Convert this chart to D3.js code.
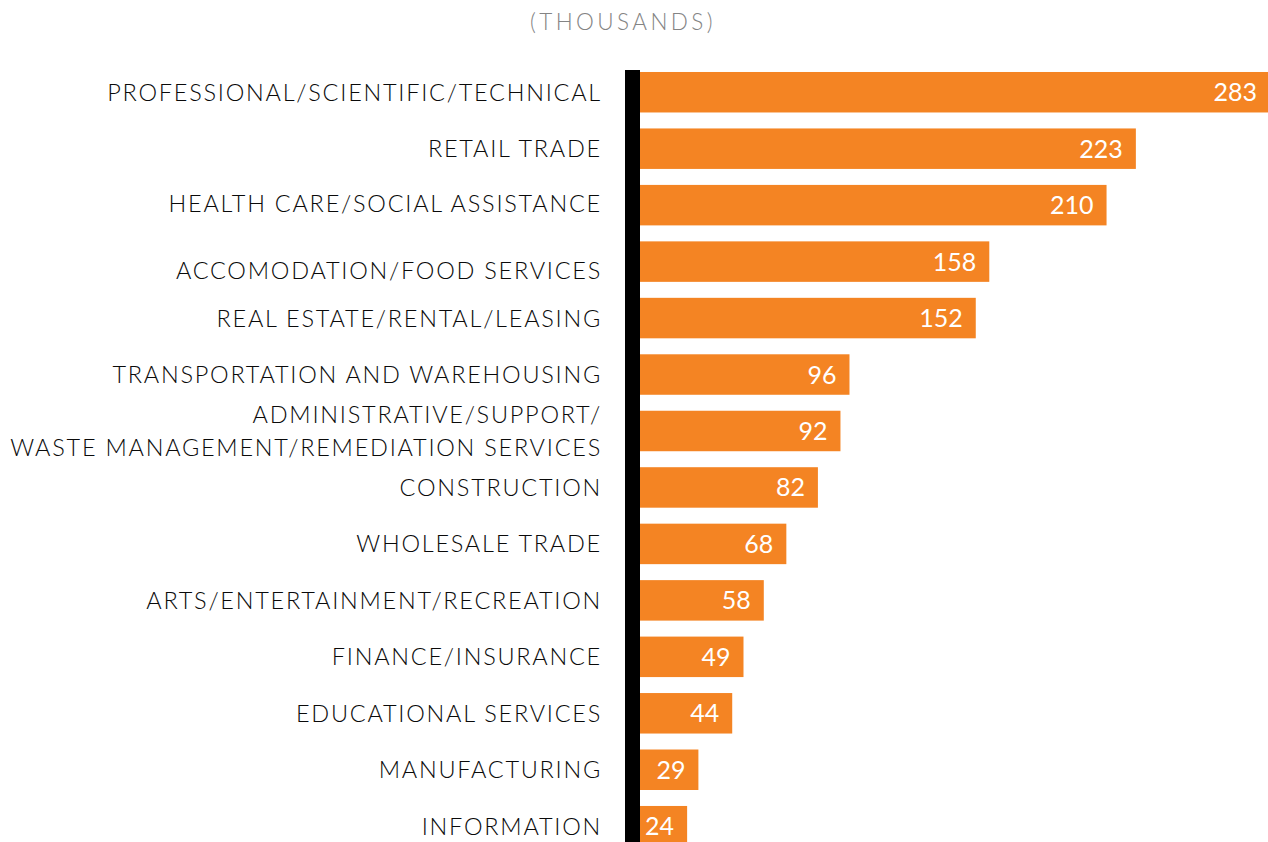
<!DOCTYPE html>
<html>
<head>
<meta charset="utf-8">
<script src="https://cdn.jsdelivr.net/npm/d3@7"></script>
<style>
  html, body { margin: 0; padding: 0; background: #fff; }
  svg { display: block; }
  text { font-family: Lato, "Noto Sans", sans-serif; }
</style>
</head>
<body>
<svg id="chart" width="1268" height="842"></svg>
<script>
// Employment by industry, in thousands
const industries = [
  ["PROFESSIONAL/SCIENTIFIC/TECHNICAL"],
  ["RETAIL TRADE"],
  ["HEALTH CARE/SOCIAL ASSISTANCE"],
  ["ACCOMODATION/FOOD SERVICES"],
  ["REAL ESTATE/RENTAL/LEASING"],
  ["TRANSPORTATION AND WAREHOUSING"],
  ["ADMINISTRATIVE/SUPPORT/", "WASTE MANAGEMENT/REMEDIATION SERVICES"],
  ["CONSTRUCTION"],
  ["WHOLESALE TRADE"],
  ["ARTS/ENTERTAINMENT/RECREATION"],
  ["FINANCE/INSURANCE"],
  ["EDUCATIONAL SERVICES"],
  ["MANUFACTURING"],
  ["INFORMATION"]
];
const jobs = [283, 223, 210, 158, 152, 96, 92, 82, 68, 58, 49, 44, 29, 24];
const unitLabel = "(THOUSANDS)";

const svg = d3.select("#chart");
const W = 1268, H = 842;

const x0 = 633;
const x = d3.scaleLinear().domain([0, 283]).range([x0, x0 + 283 * 2.255]);
const y = d3.scaleBand()
  .domain(d3.range(jobs.length))
  .range([72 - 8, 72 - 8 + 56.46 * jobs.length])
  .paddingInner(0.283)
  .paddingOuter(0.1415);

const orange = "#F48423";

// unit caption
svg.append("text")
  .attr("x", 623).attr("y", 30)
  .attr("text-anchor", "middle")
  .attr("fill", "#848484")
  .attr("font-size", 22.5)
  .attr("font-weight", 300)
  .attr("letter-spacing", 3.4)
  .text(unitLabel);

// bars
const rows = svg.append("g").selectAll("g.row")
  .data(jobs.map((v, i) => ({ v, i, name: industries[i] })))
  .join("g").attr("class", "row");

rows.append("rect")
  .attr("x", x(0))
  .attr("y", d => y(d.i))
  .attr("width", d => x(d.v) - x(0))
  .attr("height", y.bandwidth())
  .attr("fill", orange);

// value labels inside bar ends
rows.append("text")
  .attr("x", d => Math.min(x(d.v), W + 2) - 13)
  .attr("y", d => y(d.i) + y.bandwidth() / 2)
  .attr("dy", "0.36em")
  .attr("text-anchor", "end")
  .attr("fill", "#fff")
  .attr("font-size", 25)
  .text(d => d.v);

// category labels, right aligned against the axis
const labelNudge = { 2: -2, 3: 9 };
rows.append("text")
  .attr("x", 602)
  .attr("y", d => y(d.i) + y.bandwidth() / 2 + (labelNudge[d.i] || 0))
  .attr("text-anchor", "end")
  .attr("fill", "#0a0a0a")
  .attr("font-size", 23.5)
  .attr("font-weight", 300)
  .attr("letter-spacing", 1.75)
  .each(function (d) {
    const t = d3.select(this);
    const n = d.name.length;
    d.name.forEach((line, k) => {
      t.append("tspan")
        .attr("x", 602)
        .attr("dy", k === 0 ? `${0.36 - (n - 1) * 0.7}em` : "1.4em")
        .text(line);
    });
  });

// axis baseline
svg.append("rect")
  .attr("x", 625).attr("y", 70)
  .attr("width", 15).attr("height", H - 70)
  .attr("fill", "#000");
</script>
</body>
</html>
